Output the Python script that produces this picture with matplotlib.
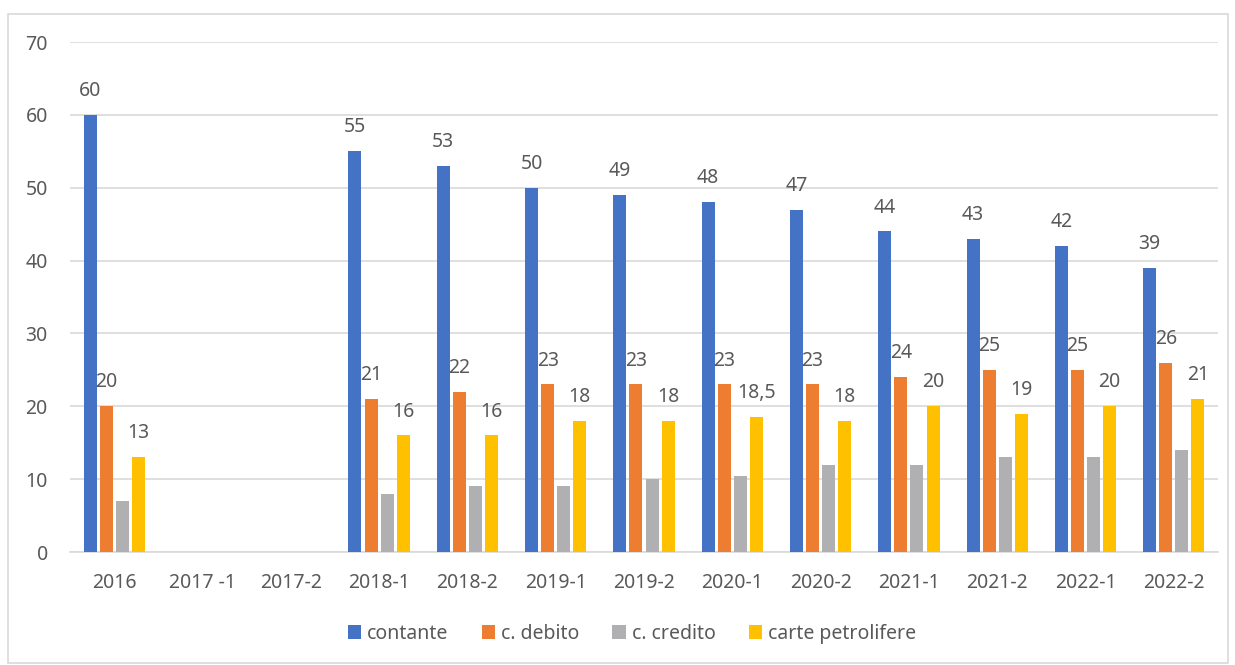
import numpy as np
import matplotlib
matplotlib.use("Agg")
import matplotlib.pyplot as plt
from matplotlib.patches import Rectangle

plt.rcParams['font.family'] = ['Noto Sans', 'DejaVu Sans']

categories = ["2016", "2017 -1", "2017-2", "2018-1", "2018-2", "2019-1", "2019-2",
              "2020-1", "2020-2", "2021-1", "2021-2", "2022-1", "2022-2"]
nan = np.nan
contante = [60, nan, nan, 55, 53, 50, 49, 48, 47, 44, 43, 42, 39]
debito = [20, nan, nan, 21, 22, 23, 23, 23, 23, 24, 25, 25, 26]
credito = [7, nan, nan, 8, 9, 9, 10, 10.5, 12, 12, 13, 13, 14]
petrolifere = [13, nan, nan, 16, 16, 18, 18, 18.5, 18, 20, 19, 20, 21]

series = [
    ("contante", contante, "#4472C4", True),
    ("c. debito", debito, "#ED7D31", True),
    ("c. credito", credito, "#B0B0B3", False),
    ("carte petrolifere", petrolifere, "#FFC000", True),
]

txt = "#595959"

fig = plt.figure(figsize=(12.35, 6.65), dpi=100)
ax = fig.add_axes([70 / 1235, 1 - 552 / 665, 1148 / 1235, 510 / 665])

x = np.arange(len(categories))
step = 0.182
width = 0.147
for i, (name, vals, col, lab) in enumerate(series):
    pos = x + (i - 1.5) * step
    ax.bar(pos, vals, width, color=col, label=name, zorder=3)
    if lab:
        for p, v in zip(pos, vals):
            if np.isnan(v):
                continue
            s = str(int(v)) if float(v).is_integer() else str(v).replace('.', ',')
            ax.text(p, v + 1.9, s, ha='center', va='bottom', fontsize=14, color=txt)

ax.set_xlim(-0.5, len(categories) - 0.5)
ax.set_ylim(0, 70)
ax.set_yticks(range(0, 71, 10))
ax.set_xticks(x)
ax.set_xticklabels(categories)
ax.tick_params(axis='both', length=0, labelsize=14, labelcolor=txt)
ax.tick_params(axis='y', pad=16)
ax.tick_params(axis='x', pad=15)
ax.grid(axis='y', color='#D9D9D9', linewidth=1.2, zorder=0)
for s in ['top', 'right', 'left']:
    ax.spines[s].set_visible(False)
ax.spines['bottom'].set_color('#D9D9D9')
ax.spines['bottom'].set_linewidth(1.2)

fig.legend(loc='center', bbox_to_anchor=(632 / 1235, 1 - 634 / 665), ncol=4, frameon=False,
           fontsize=14, handlelength=0.7, handleheight=0.7, handletextpad=0.3,
           columnspacing=1.7, labelcolor=txt)

fig.patches.append(Rectangle((8 / 1235, 2 / 665), 1220 / 1235, 649 / 665,
                             transform=fig.transFigure, fill=False,
                             edgecolor='#D9D9D9', linewidth=1.2))

fig.savefig("out.png", dpi=100)
